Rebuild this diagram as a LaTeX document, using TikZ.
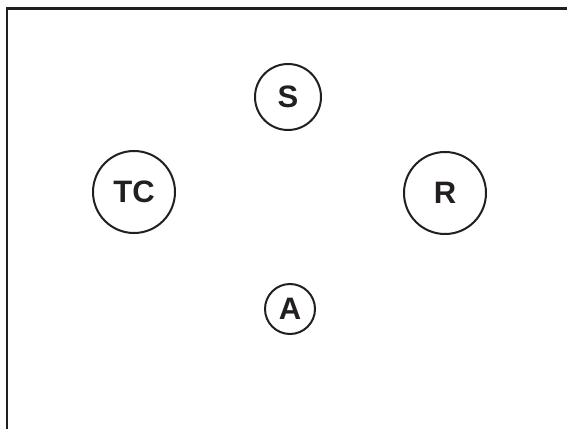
\documentclass[tikz,border=0pt]{standalone}
\usepackage{fontspec}
\setmainfont{Liberation Sans}
\begin{document}
\begin{tikzpicture}[x=1pt,y=1pt,
  state/.style={circle,draw=ink,line width=2pt,inner sep=0pt,font=\bfseries\fontsize{31}{31}\selectfont,text=ink}]
\definecolor{ink}{HTML}{231F20}
\useasboundingbox (0,0) rectangle (567,-428);
\fill[white] (0,0) rectangle (567,-428);
\coordinate (fbl) at (7,-440);
\coordinate (ftl) at (7,-8.5);
\coordinate (ftr) at (580,-8.5);
\draw[ink,line width=2.6pt] (fbl) -- (ftl) -- (ftr);
\node[state,minimum size=66pt] (S) at (288,-97) {S};
\node[state,minimum size=82pt] (TC) at (134,-192) {TC};
\node[state,minimum size=82pt] (R) at (445,-193) {R};
\node[state,minimum size=50pt] (A) at (290,-309) {A};
\end{tikzpicture}
\end{document}
